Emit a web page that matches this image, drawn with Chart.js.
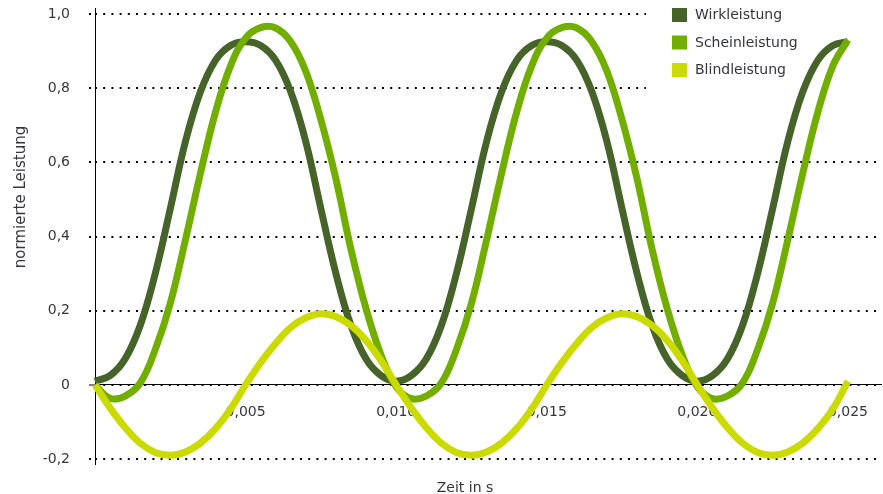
<!DOCTYPE html>
<html>
<head>
<meta charset="utf-8">
<script src="https://cdn.jsdelivr.net/npm/chart.js@4.4.0/dist/chart.umd.min.js"></script>
<style>
html,body{margin:0;padding:0;background:#fff}
#wrap{width:883px;height:494px;position:relative}
</style>
</head>
<body>
<div id="wrap"><canvas id="c"></canvas></div>
<script>
// ---- data ----
const timeS = [0,0.0005,0.001,0.0015,0.002,0.0025,0.003,0.0035,0.004,0.0045,
  0.005,0.0055,0.006,0.0065,0.007,0.0075,0.008,0.0085,0.009,0.0095,
  0.010,0.0105,0.011,0.0115,0.012,0.0125,0.013,0.0135,0.014,0.0145,
  0.015,0.0155,0.016,0.0165,0.017,0.0175,0.018,0.0185,0.019,0.0195,
  0.020,0.0205,0.021,0.0215,0.022,0.0225,0.023,0.0235,0.024,0.0245,0.025];

const wirkleistung = [0.010,0.025,0.070,0.160,0.300,0.475,0.655,0.790,0.875,0.915,
  0.925,0.915,0.875,0.790,0.655,0.475,0.300,0.160,0.070,0.025,
  0.010,0.025,0.070,0.160,0.300,0.475,0.655,0.790,0.875,0.915,
  0.925,0.915,0.875,0.790,0.655,0.475,0.300,0.160,0.070,0.025,
  0.010,0.025,0.070,0.160,0.300,0.475,0.655,0.790,0.875,0.915,0.925];

const scheinleistung = [0.000,-0.036,-0.030,0.005,0.095,0.220,0.390,0.570,0.735,0.860,
  0.935,0.963,0.962,0.925,0.845,0.715,0.555,0.365,0.205,0.080,
  -0.005,-0.037,-0.030,0.005,0.095,0.220,0.390,0.570,0.735,0.860,
  0.935,0.963,0.962,0.925,0.845,0.715,0.555,0.365,0.205,0.080,
  -0.005,-0.037,-0.030,0.005,0.095,0.220,0.390,0.570,0.735,0.860,0.930];

const blindleistung = [0.000,-0.062,-0.115,-0.157,-0.182,-0.190,-0.181,-0.157,-0.118,-0.065,
  0.000,0.060,0.112,0.155,0.181,0.192,0.184,0.160,0.120,0.065,
  0.000,-0.062,-0.115,-0.157,-0.182,-0.190,-0.181,-0.157,-0.118,-0.065,
  0.000,0.060,0.112,0.155,0.181,0.192,0.184,0.160,0.120,0.065,
  0.000,-0.062,-0.115,-0.157,-0.182,-0.190,-0.181,-0.157,-0.118,-0.065,0.010];

const seriesNames = ['Wirkleistung','Scheinleistung','Blindleistung'];
const seriesColors = ['#46632a','#72ae00','#cbdb00'];

const xTickValues = [0,0.005,0.010,0.015,0.020,0.025];
const xTickLabels = ['','0,005','0,010','0,015','0,020','0,025'];
const yTickValues = [-0.2,0,0.2,0.4,0.6,0.8,1.0];
const yTickLabels = ['-0,2','0','0,2','0,4','0,6','0,8','1,0'];

const xTitle = 'Zeit in s';
const yTitle = 'normierte Leistung';

// ---- chart ----
const FONT = 'DejaVu Sans';
const TXT = '#353540';

function pts(arr){ return timeS.map((t,i)=>({x:t,y:arr[i]})); }
const seriesData = [wirkleistung, scheinleistung, blindleistung];

const datasets = seriesData.map((arr,i)=>({
  label: seriesNames[i],
  data: pts(arr),
  borderColor: seriesColors[i],
  backgroundColor: seriesColors[i],
  borderWidth: 7,
  pointRadius: 0,
  tension: 0.4,
  fill: false,
  clip: false,
  order: 3 - i
}));

const legendMask = {
  id: 'legendMask',
  beforeDatasetsDraw(chart){
    const ctx = chart.ctx;
    ctx.save();
    ctx.fillStyle = '#fff';
    ctx.fillRect(646, 0, chart.width - 646, 96);
    ctx.restore();
  }
};

const customLegend = {
  id: 'customLegend',
  afterDatasetsDraw(chart){
    const ctx = chart.ctx;
    ctx.save();
    ctx.font = '14px "' + FONT + '"';
    ctx.textBaseline = 'middle';
    ctx.textAlign = 'left';
    seriesNames.forEach((n,i)=>{
      const cy = 15 + i*27.5;
      ctx.fillStyle = seriesColors[i];
      ctx.fillRect(672, cy - 7, 15, 14);
      ctx.fillStyle = TXT;
      ctx.fillText(n, 695, cy + 0.5);
    });
    ctx.restore();
  }
};

const axisTitles = {
  id: 'axisTitles',
  afterDraw(chart){
    const ctx = chart.ctx;
    ctx.save();
    ctx.fillStyle = TXT;
    ctx.textAlign = 'center';
    ctx.textBaseline = 'middle';
    ctx.font = '14px "' + FONT + '"';
    ctx.fillText(xTitle, 465, 488);
    ctx.translate(21, 197);
    ctx.rotate(-Math.PI/2);
    ctx.font = '15px "' + FONT + '"';
    ctx.fillText(yTitle, 0, 0);
    ctx.restore();
  }
};

new Chart(document.getElementById('c'), {
  type: 'line',
  data: { datasets },
  plugins: [legendMask, customLegend, axisTitles],
  options: {
    responsive: true,
    maintainAspectRatio: false,
    animation: false,
    layout: { padding: { top: 8, right: 1, bottom: 29, left: 0 } },
    plugins: { legend: { display: false }, tooltip: { enabled: false } },
    scales: {
      x: {
        type: 'linear',
        min: 0,
        max: 0.0261,
        position: { y: 0 },
        afterBuildTicks: s => { s.ticks = xTickValues.map(v => ({ value: v })); },
        ticks: {
          callback: (v, i) => xTickLabels[i],
          padding: 15,
          color: TXT,
          font: { family: FONT, size: 14 },
          maxRotation: 0,
          autoSkip: false
        },
        grid: {
          drawOnChartArea: true,
          drawTicks: true,
          tickLength: 4,
          tickColor: '#000',
          tickWidth: 1,
          lineWidth: 1,
          color: c => (c.tick && c.tick.value === 0) ? '#000' : 'rgba(0,0,0,0)'
        },
        border: { display: true, color: '#000', width: 1 }
      },
      y: {
        type: 'linear',
        min: -0.216,
        max: 1.016,
        afterBuildTicks: s => { s.ticks = yTickValues.map(v => ({ value: v })); },
        afterFit: s => { s.width = 95; s.paddingTop = 0; s.paddingBottom = 0; },
        ticks: {
          callback: (v, i) => yTickLabels[i],
          padding: 19,
          color: TXT,
          font: { family: FONT, size: 14 }
        },
        grid: {
          color: '#000',
          lineWidth: 2,
          drawTicks: true,
          tickLength: 6,
          tickColor: '#000',
          tickWidth: c => (c.tick && c.tick.value === 0) ? 1 : 2,
          tickBorderDash: c => (c.tick && c.tick.value === 0) ? [] : [2, 6.2]
        },
        border: { display: false, dash: [2, 6.2] }
      }
    }
  }
});
</script>
</body>
</html>
